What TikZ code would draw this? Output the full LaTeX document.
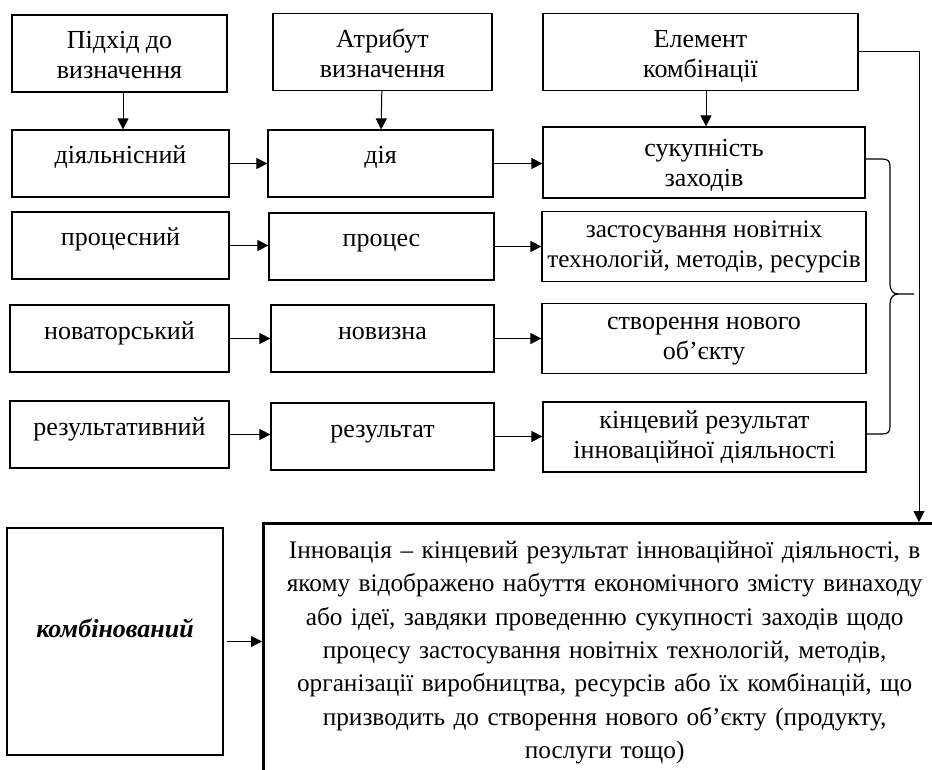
\documentclass[tikz,border=0pt]{standalone}
\usepackage{fontspec}
\setmainfont{Liberation Serif}
\usetikzlibrary{arrows.meta}

\begin{document}
\begin{tikzpicture}[x=1pt, y=-1pt,
		box/.style={draw, line width=1.2pt, inner sep=0pt, align=center,
			font=\fontsize{26pt}{30pt}\selectfont},
		headbox/.style={box, text height=64pt, text depth=13pt},
		rowbox/.style={box, text height=34pt, text depth=33pt},
		pairbox/.style={box, text height=56pt, text depth=14pt},
		arr/.style={line width=1pt, -{Triangle[length=11pt, width=11pt]}}]

		\useasboundingbox (0,0) rectangle (932,770);
		\clip (0,0) rectangle (932,770);

		\node[headbox, minimum width=215pt] (p0) at (119.5, 53.5) {Підхід до\\визначення};
		\node[headbox, minimum width=219pt] (a0) at (382.5, 52)   {Атрибут\\визначення};
		\node[headbox, minimum width=315pt] (e0) at (700.5, 52)   {Елемент\\комбінації};

		\node[rowbox, minimum width=217pt] (p1) at (120.5, 163.5) {діяльнісний};
		\node[rowbox, minimum width=217pt] (p2) at (120.5, 245.5) {процесний};
		\node[rowbox, minimum width=219pt] (p3) at (119.5, 338.5) {новаторський};
		\node[rowbox, minimum width=219pt] (p4) at (119.5, 434.5) {результативний};

		\node[rowbox, minimum width=225pt] (a1) at (380.5, 163.5) {дія};
		\node[rowbox, minimum width=225pt] (a2) at (381.5, 246.5) {процес};
		\node[rowbox, minimum width=223pt] (a3) at (382.5, 338.5) {новизна};
		\node[rowbox, minimum width=223pt] (a4) at (382.5, 436.5) {результат};

		\node[pairbox, minimum width=322pt, text height=60pt, text depth=11pt] (e1) at (704, 162.5) {сукупність\\заходів};
		\node[pairbox, minimum width=324pt, font=\fontsize{25.2pt}{30pt}\selectfont] (e2) at (704, 246.5)
			{застосування новітніх\\технологій, методів, ресурсів};
		\node[pairbox, minimum width=324pt] (e3) at (704, 338.5)   {створення нового\\об’єкту};
		\node[pairbox, minimum width=323pt] (e4) at (704.5, 437)   {кінцевий результат\\інноваційної діяльності};

		\node[box, minimum width=216pt, text height=109pt, text depth=118pt,
			font=\fontsize{26pt}{31pt}\selectfont\bfseries\itshape] (k) at (115, 641.5) {комбінований};

		\node[draw, line width=3.3pt, anchor=north west, align=center, text width=676pt,
			inner xsep=3pt, inner ysep=17pt, font=\fontsize{25.3pt}{33.3pt}\selectfont] (inno) at (262, 522)
			{\rule{0pt}{18pt}Інновація – кінцевий результат інноваційної діяльності, в\\
			якому відображено набуття економічного змісту винаходу\\
			або ідеї, завдяки проведенню сукупності заходів щодо\\
			процесу застосування новітніх технологій, методів,\\
			організації виробництва, ресурсів або їх комбінацій, що\\
			призводить до створення нового об’єкту (продукту,\\
			послуги тощо)};

		\coordinate (turn) at (919, 52);

		\draw[arr] (p0.south -| 123,0) -- (p1.north -| 123,0);
		\draw[arr] (a0) -- (a1);
		\draw[arr] (e0.south -| 706,0) -- (e1.north -| 706,0);

		\draw[arr] (p1.east) -- (p1.east -| a1.west);
		\draw[arr] (p2.east) -- (p2.east -| a2.west);
		\draw[arr] (p3.east) -- (p3.east -| a3.west);
		\draw[arr] (p4.east) -- (p4.east -| a4.west);

		\draw[arr] (a1.east) -- (a1.east -| e1.west);
		\draw[arr] (a2.east) -- (a2.east -| e2.west);
		\draw[arr] (a3.east) -- (a3.east -| e3.west);
		\draw[arr] (a4.east) -- (a4.east -| e4.west);

		\draw[line width=1.2pt] (866,159) -- (882,159) .. controls (888,159) and (890,161) .. (890,167)
			-- (890,284) .. controls (890,290) and (893,294) .. (898,294) -- (914,294);
		\draw[line width=1.2pt] (898,294) .. controls (893,294) and (890,298) .. (890,304)
			-- (890,426) .. controls (890,432) and (888,434) .. (882,434) -- (866,434);

		\draw[arr] (e0.east) -- (turn) -- (turn |- inno.north);
		\draw[arr, shorten <=3pt] (k.east) -- (k.east -| inno.west);
	\end{tikzpicture}
\end{document}
